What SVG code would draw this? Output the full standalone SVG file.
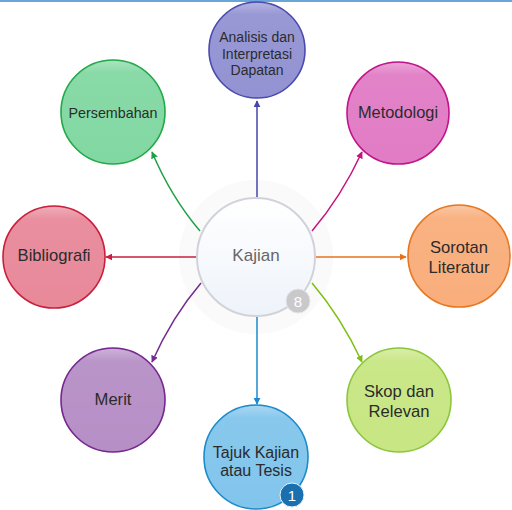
<svg xmlns="http://www.w3.org/2000/svg" width="512" height="510" viewBox="0 0 512 510">
<style>
text{font-family:"Liberation Sans",Arial,sans-serif;fill:#2b2b2b;text-anchor:middle}
.c{fill:none;stroke-width:1.5}
.n{stroke-width:1.6}
</style>
<defs>
<linearGradient id="gloss" x1="0" y1="0" x2="0" y2="1">
<stop offset="0" stop-color="#fff" stop-opacity="0.3"/>
<stop offset="0.12" stop-color="#fff" stop-opacity="0.05"/>
<stop offset="1" stop-color="#fff" stop-opacity="0"/>
</linearGradient>
<linearGradient id="cg" x1="0" y1="0" x2="0" y2="1">
<stop offset="0" stop-color="#ffffff"/>
<stop offset="1" stop-color="#eef3fa"/>
</linearGradient>
<marker id="m1" viewBox="0 0 10 10" refX="9" refY="5" markerWidth="7" markerHeight="7" markerUnits="userSpaceOnUse" orient="auto"><path d="M0,0L10,5L0,10z" fill="#4545ad"/></marker>
<marker id="m2" viewBox="0 0 10 10" refX="9" refY="5" markerWidth="7" markerHeight="7" markerUnits="userSpaceOnUse" orient="auto"><path d="M0,0L10,5L0,10z" fill="#c4127f"/></marker>
<marker id="m3" viewBox="0 0 10 10" refX="9" refY="5" markerWidth="7" markerHeight="7" markerUnits="userSpaceOnUse" orient="auto"><path d="M0,0L10,5L0,10z" fill="#e8701c"/></marker>
<marker id="m4" viewBox="0 0 10 10" refX="9" refY="5" markerWidth="7" markerHeight="7" markerUnits="userSpaceOnUse" orient="auto"><path d="M0,0L10,5L0,10z" fill="#7cbf10"/></marker>
<marker id="m5" viewBox="0 0 10 10" refX="9" refY="5" markerWidth="7" markerHeight="7" markerUnits="userSpaceOnUse" orient="auto"><path d="M0,0L10,5L0,10z" fill="#1a8ad0"/></marker>
<marker id="m6" viewBox="0 0 10 10" refX="9" refY="5" markerWidth="7" markerHeight="7" markerUnits="userSpaceOnUse" orient="auto"><path d="M0,0L10,5L0,10z" fill="#742a8e"/></marker>
<marker id="m7" viewBox="0 0 10 10" refX="9" refY="5" markerWidth="7" markerHeight="7" markerUnits="userSpaceOnUse" orient="auto"><path d="M0,0L10,5L0,10z" fill="#c81e40"/></marker>
<marker id="m8" viewBox="0 0 10 10" refX="9" refY="5" markerWidth="7" markerHeight="7" markerUnits="userSpaceOnUse" orient="auto"><path d="M0,0L10,5L0,10z" fill="#1fa045"/></marker>
</defs>
<rect x="0" y="0" width="512" height="510" fill="#ffffff"/>
<rect x="0" y="0" width="512" height="2" fill="#6aa5da"/>
<circle cx="256" cy="257" r="77" fill="#fafafb"/>
<g id="connectors">
<path class="c" d="M257,198 L257,101" stroke="#4545ad" marker-end="url(#m1)"/>
<path class="c" d="M312,231 Q341,197 362,152" stroke="#c4127f" marker-end="url(#m2)"/>
<path class="c" d="M315,257 L406,257" stroke="#e8701c" marker-end="url(#m3)"/>
<path class="c" d="M312,283 Q341,317 362,362" stroke="#7cbf10" marker-end="url(#m4)"/>
<path class="c" d="M257,317 L257,404" stroke="#1a8ad0" marker-end="url(#m5)"/>
<path class="c" d="M201,283 Q172,317 152,362" stroke="#742a8e" marker-end="url(#m6)"/>
<path class="c" d="M197,257 L106,257" stroke="#c81e40" marker-end="url(#m7)"/>
<path class="c" d="M200,231 Q171,197 152,152" stroke="#1fa045" marker-end="url(#m8)"/>
</g>
<g id="kajian">
<circle cx="256" cy="257" r="59" fill="url(#cg)" stroke="#d2d3da" stroke-width="2"/>
<text x="256" y="261" font-size="17" style="fill:#666">Kajian</text>
<circle cx="298" cy="301" r="12" fill="#c9c9cb" stroke="#e6e6e8" stroke-width="1"/>
<text x="298" y="306.5" font-size="15" style="fill:#fff">8</text>
</g>
<g id="analisis">
<circle class="n" cx="257" cy="50" r="48" fill="#9393d3" stroke="#4b4bae"/>
<circle cx="257" cy="50" r="47" fill="url(#gloss)"/>
<text x="257" y="42" font-size="14">Analisis dan</text>
<text x="257" y="58.5" font-size="14">Interpretasi</text>
<text x="257" y="75" font-size="14">Dapatan</text>
</g>
<g id="metodologi">
<circle class="n" cx="398" cy="113" r="51" fill="#e17cc5" stroke="#c0158a"/>
<circle cx="398" cy="113" r="50" fill="url(#gloss)"/>
<text x="398" y="118" font-size="16.4">Metodologi</text>
</g>
<g id="sorotan">
<circle class="n" cx="459" cy="256" r="51" fill="#f9ae7c" stroke="#e87722"/>
<circle cx="459" cy="256" r="50" fill="url(#gloss)"/>
<text x="459" y="253" font-size="16.6">Sorotan</text>
<text x="459" y="273" font-size="16.6">Literatur</text>
</g>
<g id="skop">
<circle class="n" cx="399" cy="400" r="52" fill="#c8e683" stroke="#8cc63f"/>
<circle cx="399" cy="400" r="51" fill="url(#gloss)"/>
<text x="399" y="397" font-size="16.6">Skop dan</text>
<text x="399" y="417" font-size="16.6">Relevan</text>
</g>
<g id="tajuk">
<circle class="n" cx="256" cy="457" r="52" fill="#82c5ec" stroke="#1e8bc9"/>
<circle cx="256" cy="457" r="51" fill="url(#gloss)"/>
<text x="256" y="458" font-size="16">Tajuk Kajian</text>
<text x="256" y="476" font-size="16">atau Tesis</text>
<circle cx="292" cy="495" r="12" fill="#1a6fae" stroke="#e8f1f8" stroke-width="1"/>
<text x="292" y="500.5" font-size="15" style="fill:#fff">1</text>
</g>
<g id="merit">
<circle class="n" cx="113" cy="400" r="52" fill="#b68fc6" stroke="#76278f"/>
<circle cx="113" cy="400" r="51" fill="url(#gloss)"/>
<text x="113" y="405" font-size="16.6">Merit</text>
</g>
<g id="bibliografi">
<circle class="n" cx="54" cy="257" r="51" fill="#e8899a" stroke="#c8203c"/>
<circle cx="54" cy="257" r="50" fill="url(#gloss)"/>
<text x="54" y="261" font-size="16.6">Bibliografi</text>
</g>
<g id="persembahan">
<circle class="n" cx="113" cy="112" r="52" fill="#82d8a2" stroke="#23a84a"/>
<circle cx="113" cy="112" r="51" fill="url(#gloss)"/>
<text x="113" y="118" font-size="14.3">Persembahan</text>
</g>
</svg>
